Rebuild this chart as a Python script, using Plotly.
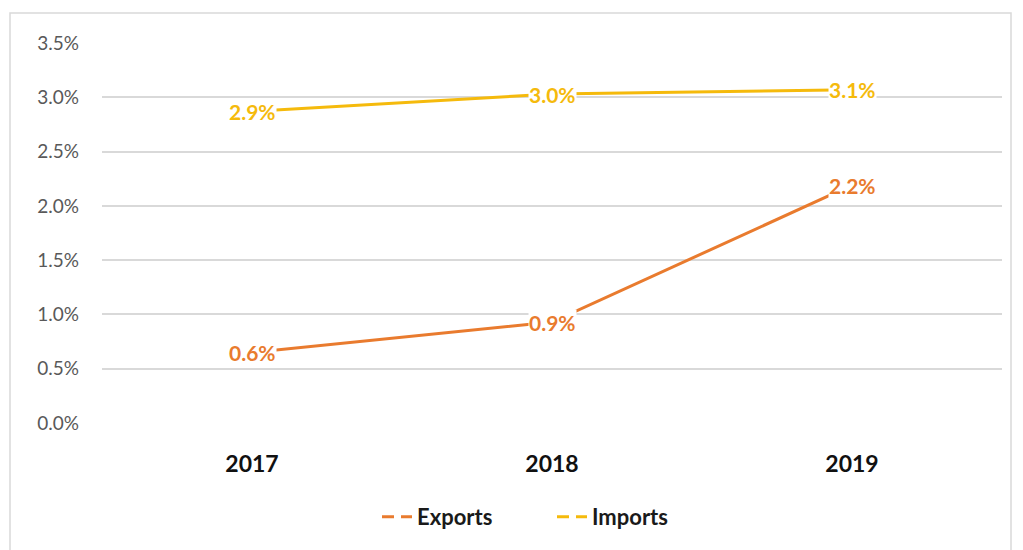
import plotly.graph_objects as go

years = ["2017", "2018", "2019"]
exports = [0.0065, 0.0093, 0.0219]
imports = [0.0287, 0.0303, 0.0307]
export_labels = ["0.6%", "0.9%", "2.2%"]
import_labels = ["2.9%", "3.0%", "3.1%"]
y_ticks = [0, 0.005, 0.01, 0.015, 0.02, 0.025, 0.03, 0.035]

EXP_COLOR = "#E97B2E"
IMP_COLOR = "#F5BA0C"
FONT = "Lato"

fig = go.Figure()

for name, vals, color in [("Exports", exports, EXP_COLOR), ("Imports", imports, IMP_COLOR)]:
    fig.add_trace(go.Scatter(
        x = years, y = vals, mode = "lines",
        line = dict(color = color, width = 3),
        showlegend = False, hoverinfo = "skip"
    ))
    # legend entry with the dashed symbol
    fig.add_trace(go.Scatter(
        x = years, y = [None] * len(years), mode = "lines", name = name,
        line = dict(color = color, width = 3, dash = "12px,7px")
    ))

# value labels with white boxes; x given as category index
annotations = []
for vals, labels, color in [(exports, export_labels, EXP_COLOR), (imports, import_labels, IMP_COLOR)]:
    for i, (y, t) in enumerate(zip(vals, labels)):
        annotations.append(dict(
            x = i, y = y, xref = "x", yref = "y", text = t, showarrow = False,
            bgcolor = "white", borderpad = 0,
            font = dict(family = FONT, size = 21, color = color, weight = "bold")
        ))

# page has an 8px body margin, so the figure is offset by 8px
fig.update_layout(
    width = 1015, height = 542,
    margin = dict(l = 94, r = 21, t = 35, b = 127),
    plot_bgcolor = "white", paper_bgcolor = "white",
    font = dict(family = FONT, color = "#595959", size = 18),
    annotations = annotations,
    legend = dict(
        orientation = "h", x = 0.5, xanchor = "center", y = -0.247, yanchor = "middle",
        font = dict(family = FONT, size = 22, color = "#1a1a1a", weight = "bold"),
        entrywidth = 130, traceorder = "normal"
    ),
    shapes = [dict(
        type = "rect", xref = "paper", yref = "paper",
        x0 = (2 - 94) / 900, x1 = (1003 - 94) / 900,
        y0 = (415 - 560) / 380, y1 = (415 - 5) / 380,
        line = dict(color = "#d9d9d9", width = 1.5), layer = "below"
    )]
)

fig.update_xaxes(
    type = "category", categoryorder = "array", categoryarray = years,
    range = [-0.5, 2.5], showgrid = False, showline = False, zeroline = False,
    ticks = "", ticklabelstandoff = 25,
    tickfont = dict(family = FONT, size = 23, color = "#111111", weight = "bold")
)
fig.update_yaxes(
    range = [0, 0.035], tickvals = y_ticks, tickformat = ".1%",
    gridcolor = "#d9d9d9", gridwidth = 1.5, zeroline = False,
    showline = False, ticks = "", ticklabelstandoff = 22,
    tickfont = dict(family = FONT, size = 19, color = "#595959")
)

fig.write_html("out.html")
